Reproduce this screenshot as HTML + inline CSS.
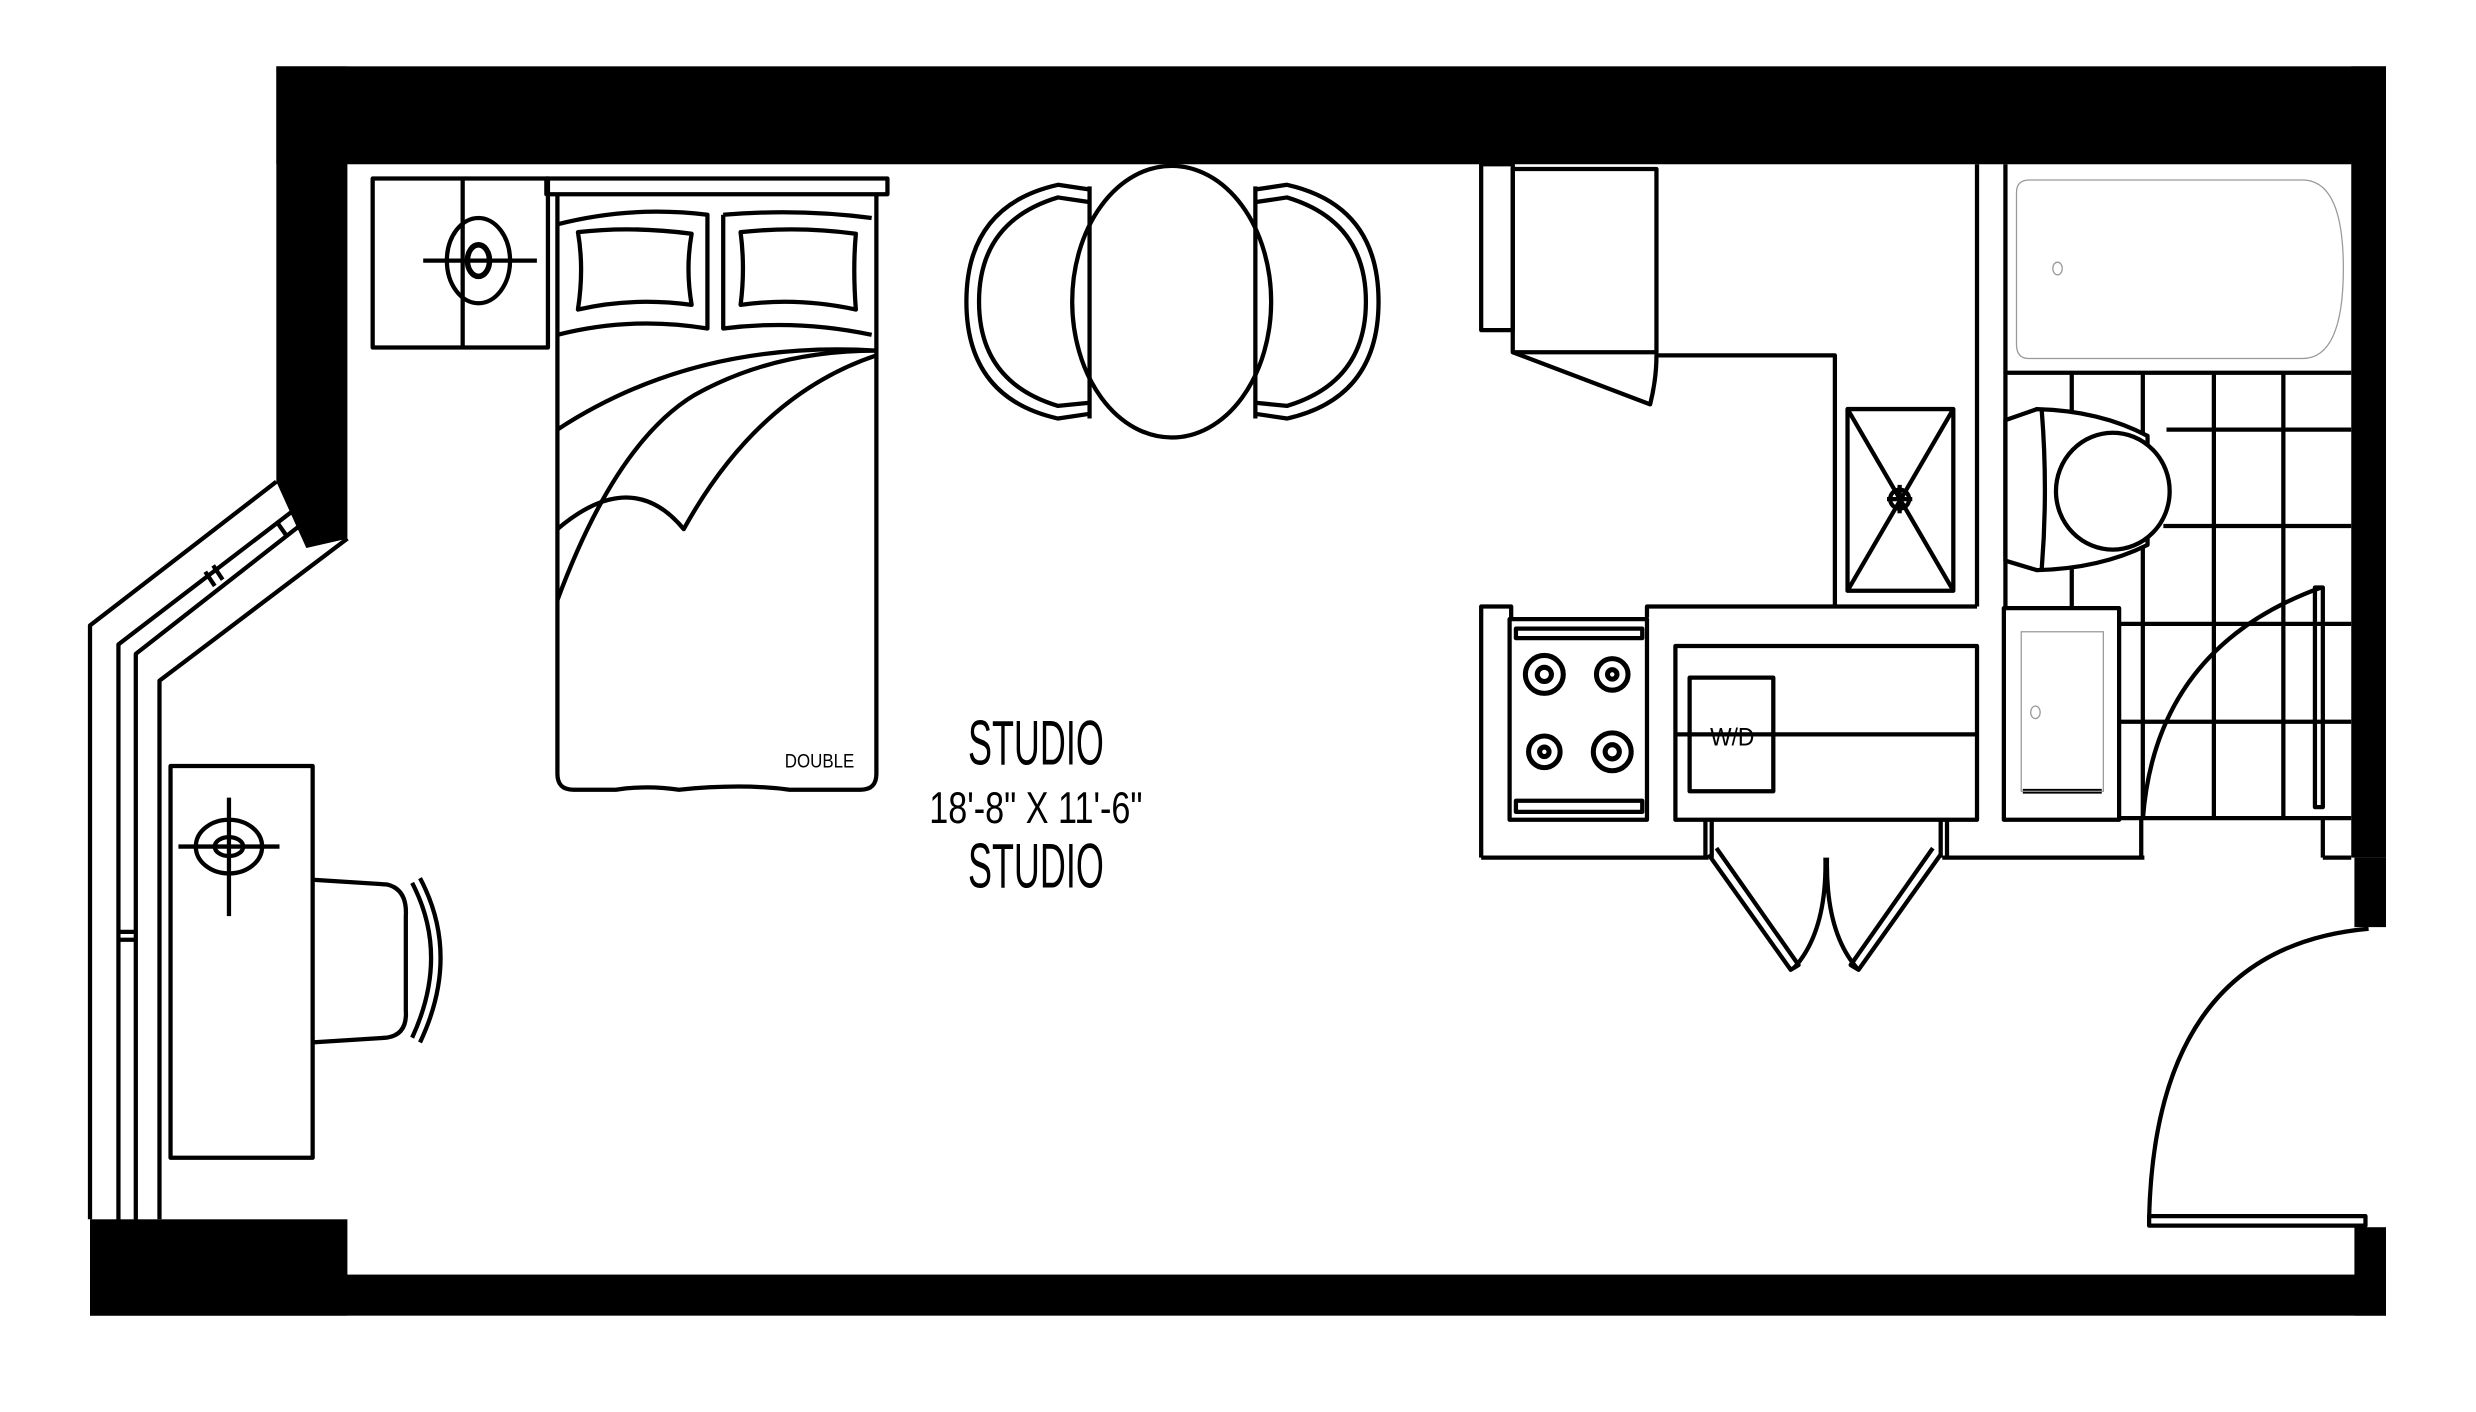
<!DOCTYPE html>
<html><head><meta charset="utf-8"><style>html,body{margin:0;padding:0;background:#fff}svg{display:block}</style></head>
<body>
<svg width="2476" height="1412" viewBox="0 0 1568 894" preserveAspectRatio="none" xmlns="http://www.w3.org/2000/svg">
<rect width="1568" height="894" fill="#fff"/>
<g fill="#000" stroke="none">
<rect x="175" y="42" width="1336" height="62"/>
<polygon points="175,42 220,42 220,341 194,347 175,305"/>
<rect x="57" y="772" width="163" height="61"/>
<rect x="57" y="807" width="1454" height="26"/>
<rect x="1489" y="42" width="22" height="501"/>
<rect x="1491" y="543" width="20" height="44"/>
<rect x="1491" y="777" width="20" height="56"/>
</g>
<g fill="none" stroke="#000" stroke-width="2.7" stroke-linejoin="round">
<polyline points="175,305 57,396 57,772"/>
<polyline points="220,341 101,431 101,772"/>
<polyline points="75,775 75,408 190,320"/>
<polyline points="86,775 86,414 196,328"/>
<line x1="75" y1="590" x2="86" y2="590"/><line x1="75" y1="595" x2="86" y2="595"/>
<line x1="130" y1="362" x2="136" y2="371"/><line x1="135" y1="358" x2="141" y2="367"/>
<line x1="175" y1="330" x2="182" y2="340"/>
<rect x="108" y="485" width="90" height="248"/>
<ellipse cx="145" cy="536" rx="21" ry="17"/>
<ellipse cx="145" cy="536" rx="9" ry="6"/>
<line x1="113" y1="536" x2="177" y2="536"/><line x1="145" y1="505" x2="145" y2="580"/>
<path d="M198,557 L245,560 Q258,563 257,580 L257,640 Q258,655 245,657 L198,660"/>
<path d="M261,559 Q285,605 261,657 M266,556 Q292,605 266,660"/>
<rect x="236" y="113" width="111" height="107"/>
<line x1="293" y1="113" x2="293" y2="220"/>
<ellipse cx="303" cy="165" rx="20" ry="27"/>
<ellipse cx="303" cy="165" rx="7" ry="10" stroke-width="3.5"/>
<line x1="268" y1="165" x2="340" y2="165"/>
<rect x="346" y="113" width="216" height="10"/>
<path d="M353,123 L353,490 Q353,500 363,500 L390,500 Q410,497 430,500 Q470,496 500,500 L545,500 Q555,500 555,490 L555,123"/>
<path d="M353,142 Q400,130 448,136 L448,208 Q400,200 353,212 M458,136 Q505,132 552,138 M458,136 L458,208 Q505,202 552,212"/>
<path d="M366,147 Q400,143 438,148 Q434,170 438,193 Q400,188 366,196 Q370,170 366,147 Z"/>
<path d="M469,147 Q505,143 542,148 Q540,170 542,196 Q505,188 469,193 Q472,170 469,147 Z"/>
<path d="M353,272 Q440,215 555,222"/>
<path d="M353,380 Q390,280 440,250 Q490,222 555,222"/>
<path d="M353,335 Q400,295 433,335 Q480,250 555,225"/>
<ellipse cx="742" cy="191" rx="63" ry="86"/>
<path d="M690,120 L670,117 Q612,130 612,191 Q612,252 670,265 L690,262"/>
<path d="M690,128 L670,125 Q620,140 620,191 Q620,242 670,257 L690,255"/>
<path d="M795,120 L815,117 Q873,130 873,191 Q873,252 815,265 L795,262"/>
<path d="M795,128 L815,125 Q865,140 865,191 Q865,242 815,257 L795,255"/>
<line x1="690" y1="118" x2="690" y2="265"/><line x1="795" y1="118" x2="795" y2="265"/>
<rect x="938" y="104" width="20" height="105"/>
<rect x="958" y="107" width="91" height="116"/>
<path d="M958,223 L1045,256 Q1049,240 1049,225 L1162,225 L1162,384"/>
<line x1="1252" y1="104" x2="1252" y2="384"/>
<line x1="1270" y1="104" x2="1270" y2="384"/>
<rect x="1170" y="259" width="67" height="115"/>
<line x1="1170" y1="259" x2="1237" y2="374"/><line x1="1237" y1="259" x2="1170" y2="374"/>
<circle cx="1203" cy="316" r="6"/><line x1="1195" y1="316" x2="1211" y2="316"/><line x1="1203" y1="307" x2="1203" y2="325"/>
<polyline points="938,543 938,384 957,384 957,391"/>
<polyline points="1043,391 1043,384 1252,384"/>
<rect x="956" y="392" width="87" height="127"/>
<rect x="960" y="398" width="80" height="6"/><rect x="960" y="507" width="80" height="7"/>
<circle cx="978" cy="427" r="12" stroke-width="3.2"/><circle cx="978" cy="427" r="4.5" stroke-width="3.2"/>
<circle cx="1021" cy="427" r="10" stroke-width="3.2"/><circle cx="1021" cy="427" r="3" stroke-width="3.2"/>
<circle cx="978" cy="476" r="10" stroke-width="3.2"/><circle cx="978" cy="476" r="3" stroke-width="3.2"/>
<circle cx="1021" cy="476" r="12" stroke-width="3.2"/><circle cx="1021" cy="476" r="4.5" stroke-width="3.2"/>
<rect x="1061" y="409" width="191" height="110"/>
<rect x="1070" y="429" width="53" height="72"/>
<line x1="1061" y1="465" x2="1252" y2="465"/>
<line x1="938" y1="543" x2="1082" y2="543"/>
<line x1="1230" y1="543" x2="1358" y2="543"/>
<line x1="1080" y1="519" x2="1080" y2="543"/><line x1="1084" y1="519" x2="1084" y2="543"/>
<line x1="1229" y1="519" x2="1229" y2="543"/><line x1="1233" y1="519" x2="1233" y2="543"/>
<path d="M1082,541 L1134,614 L1139,611 L1087,537"/>
<path d="M1229,541 L1177,614 L1172,611 L1224,537"/>
<path d="M1156,543 Q1157,590 1136,613 M1157,543 Q1156,590 1176,613"/>
<line x1="1270" y1="236" x2="1489" y2="236"/>
<line x1="1312" y1="236" x2="1312" y2="263"/>
<line x1="1357" y1="236" x2="1357" y2="275"/>
<line x1="1402" y1="236" x2="1402" y2="519"/>
<line x1="1446" y1="236" x2="1446" y2="519"/>
<line x1="1357" y1="343" x2="1357" y2="519"/>
<line x1="1312" y1="360" x2="1312" y2="385"/>
<line x1="1372" y1="272" x2="1489" y2="272"/>
<line x1="1370" y1="333" x2="1489" y2="333"/>
<line x1="1342" y1="395" x2="1489" y2="395"/>
<line x1="1342" y1="457" x2="1489" y2="457"/>
<line x1="1342" y1="518" x2="1489" y2="518"/>
<path d="M1270,266 L1290,259 Q1330,260 1360,276 L1360,345 Q1330,360 1290,361 L1270,355 Z" fill="#fff"/>
<path d="M1293,260 Q1297,310 1293,360"/>
<ellipse cx="1338" cy="311" rx="36" ry="37" fill="#fff"/>
<rect x="1269" y="385" width="73" height="134" fill="#fff"/>
<line x1="1281" y1="501" x2="1331" y2="501" stroke-width="3"/>
<line x1="1356" y1="519" x2="1356" y2="543"/>
<path d="M1357,519 Q1365,410 1470,372"/>
<rect x="1466" y="372" width="5" height="139"/>
<line x1="1471" y1="519" x2="1471" y2="543"/><line x1="1471" y1="543" x2="1489" y2="543"/>
<path d="M1361,771 Q1365,600 1500,588"/>
<rect x="1361" y="770" width="137" height="6"/>
</g>
<g fill="none" stroke="#999" stroke-width="0.8">
<path d="M1285,114 L1458,114 Q1484,114 1484,170 Q1484,227 1458,227 L1285,227 Q1277,227 1277,218 L1277,122 Q1277,114 1285,114 Z"/>
<ellipse cx="1303" cy="170" rx="3" ry="4"/>
<rect x="1280" y="400" width="52" height="101"/>
<ellipse cx="1289" cy="451" rx="3" ry="4"/>
</g>
<g font-family="'Liberation Sans Narrow','Liberation Sans',sans-serif" fill="#000" text-anchor="middle">
<text x="656" y="484" font-size="40" textLength="86" lengthAdjust="spacingAndGlyphs">STUDIO</text>
<text x="656" y="521" font-size="28" textLength="135" lengthAdjust="spacingAndGlyphs">18'-8" X 11'-6"</text>
<text x="656" y="562" font-size="40" textLength="86" lengthAdjust="spacingAndGlyphs">STUDIO</text>
<text x="519" y="486" font-size="12" textLength="44" lengthAdjust="spacingAndGlyphs">DOUBLE</text>
<text x="1097" y="472" font-size="16" textLength="28" lengthAdjust="spacingAndGlyphs">W/D</text>
</g>
</svg>
</body></html>
